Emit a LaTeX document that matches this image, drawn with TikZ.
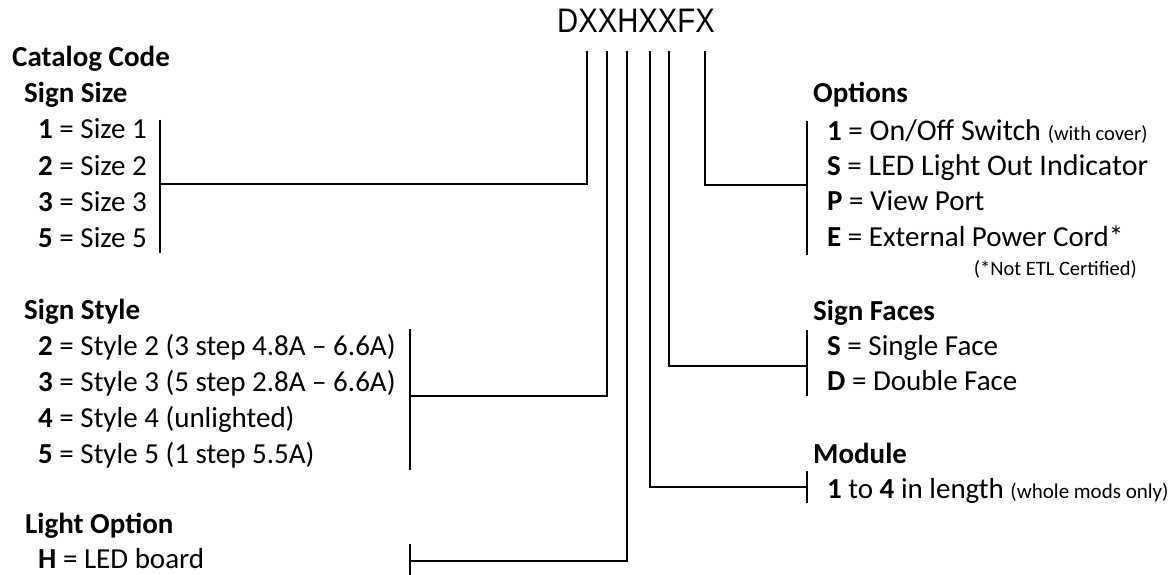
\documentclass[tikz,border=0pt]{standalone}
\usepackage{fontspec}
\setmainfont{Carlito}
\newfontfamily\titlefont{Liberation Sans}
\begin{document}
\begin{tikzpicture}[x=1pt,y=-1pt,
  txt/.style={inner sep=0pt, anchor=base west, font=\fontsize{29}{35}\selectfont},
  txtbig/.style={inner sep=0pt, anchor=base west, font=\fontsize{30}{36}\selectfont},
  hd/.style={inner sep=0pt, anchor=base west, font=\fontsize{29}{35}\selectfont\bfseries},
  note/.style={inner sep=0pt, anchor=base east, font=\fontsize{20.5}{24}\selectfont},
  conn/.style={line width=1.6pt, draw=black}
]
\useasboundingbox (0,0) rectangle (1172,575);

% title
\node[inner sep=0pt, anchor=base, font=\titlefont\fontsize{34}{40}\selectfont] (title) at (636,33) {\scalebox{0.86}[1]{DXXHXXFX}};

% left column
\node[hd] (cat) at (12,67) {Catalog Code};
\node[hd] (size) at (24,103) {Sign Size};
\node[txt] (s1) at (38,139) {\textbf{1} = Size 1};
\node[txt] (s2) at (38,175) {\textbf{2} = Size 2};
\node[txt] (s3) at (38,211) {\textbf{3} = Size 3};
\node[txt] (s5) at (38,247) {\textbf{5} = Size 5};

\node[hd] (style) at (24,319) {Sign Style};
\node[txt] (t2) at (38,355) {\textbf{2} = Style 2 (3 step 4.8A – 6.6A)};
\node[txt] (t3) at (38,391) {\textbf{3} = Style 3 (5 step 2.8A – 6.6A)};
\node[txt] (t4) at (38,427) {\textbf{4} = Style 4 (unlighted)};
\node[txt] (t5) at (38,463) {\textbf{5} = Style 5 (1 step 5.5A)};

\node[hd] (light) at (25,533) {Light Option};
\node[txt] (lh) at (38,568) {\textbf{H} = LED board};

% right column
\node[hd] (opt) at (813,103) {Options};
\node[txtbig] (o1) at (827,140) {{\fontsize{29}{35}\selectfont\textbf{1} =} On/Off Switch {\fontsize{20.5}{24}\selectfont(with cover)}};
\node[txtbig] (oS) at (827,175) {{\fontsize{29}{35}\selectfont\textbf{S} =} LED Light Out Indicator};
\node[txt] (oP) at (827,210) {\textbf{P} = View Port};
\node[txt] (oE) at (827,246) {\textbf{E} = External Power Cord*};
\node[note] (etl) at (1137,275) {(*Not ETL Certified)};

\node[hd] (faces) at (813,320) {Sign Faces};
\node[txt] (fS) at (827,355) {\textbf{S} = Single Face};
\node[txt] (fD) at (827,390) {\textbf{D} = Double Face};

\node[hd] (mod) at (813,463) {Module};
\node[txt] (m1) at (827,498) {\textbf{1} to \textbf{4} in length {\fontsize{21}{25}\selectfont(whole mods only)}};

% connector start points under the title
\coordinate (c1) at (587,51);
\coordinate (c2) at (607,51);
\coordinate (c3) at (627,51);
\coordinate (c4) at (650,51);
\coordinate (c5) at (669,51);
\coordinate (c6) at (705,51);

% brackets
\coordinate (b1t) at (160,120); \coordinate (b1b) at (160,253); \coordinate (b1m) at (160,184);
\coordinate (b2t) at (410,329); \coordinate (b2b) at (410,470); \coordinate (b2m) at (410,396);
\coordinate (b3t) at (410,544); \coordinate (b3b) at (410,575); \coordinate (b3m) at (410,561);
\coordinate (b4t) at (807,471); \coordinate (b4b) at (807,503); \coordinate (b4m) at (807,487);
\coordinate (b5t) at (807,330); \coordinate (b5b) at (807,396); \coordinate (b5m) at (807,366);
\coordinate (b6t) at (807,121); \coordinate (b6b) at (807,255); \coordinate (b6m) at (807,185);

\foreach \i in {1,...,6} {
  \draw[conn] (b\i t) -- (b\i b);
  \draw[conn] (c\i) |- (b\i m);
}
\end{tikzpicture}
\end{document}
